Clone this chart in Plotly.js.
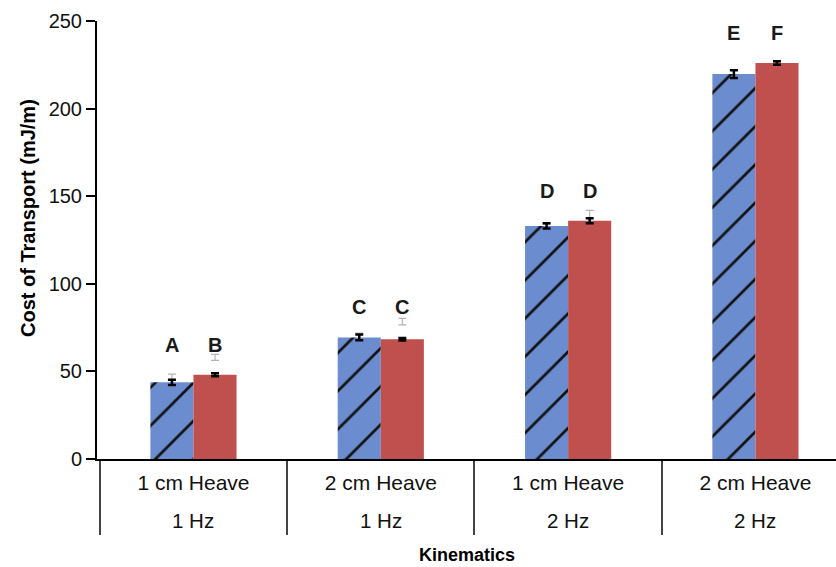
<!DOCTYPE html>
<html>
<head>
<meta charset="utf-8">
<script src="https://cdn.plot.ly/plotly-3.0.1.min.js"></script>
<style>
  html, body { margin: 0; padding: 0; background: #fff; }
  #chart { width: 836px; height: 567px; }
</style>
</head>
<body>
<div id="chart"></div>
<script>
// Kinematic conditions (two label rows under each group)
const heaveLabels = ["1 cm Heave", "2 cm Heave", "1 cm Heave", "2 cm Heave"];
const freqLabels = ["1 Hz", "1 Hz", "2 Hz", "2 Hz"];

// Cost of transport (mJ/m): means and standard errors
const blueMean = [43.8, 69.4, 133.0, 219.7];
const blueErr = [1.5, 1.6, 1.5, 2.2];
const redMean = [48.1, 68.4, 136.0, 226.0];
const redErr = [0.8, 0.7, 1.4, 1.0];

// Secondary (grey) error ranges
const blueRangeMid = [43.8, 69.4, 133.0, 219.7];
const blueRangeErr = [4.7, 2.5, 1.0, 2.6];
const redRangeMid = [58.0, 78.4, 136.0, 226.0];
const redRangeErr = [1.7, 1.9, 5.9, 0.5];

// Significance letters
const blueLetters = ["A", "C", "D", "E"];
const redLetters = ["B", "C", "D", "F"];

const keys = heaveLabels.map((h, i) => h + " / " + freqLabels[i]);

const BLUE = "#6b8cce";
const RED = "#c0504d";
const FONT = "Liberation Sans, Arial, sans-serif";

const greyErr = (arr) => ({
  type: "data", array: arr, visible: true,
  color: "#b4b4b4", thickness: 1.2, width: 4
});
const blackErr = (arr) => ({
  type: "data", array: arr, visible: true,
  color: "#000", thickness: 2.5, width: 4
});

const traces = [
  {
    type: "bar", x: keys, y: blueRangeMid, offsetgroup: "a",
    marker: { color: "rgba(0,0,0,0)", line: { width: 0 } },
    error_y: greyErr(blueRangeErr), hoverinfo: "skip", showlegend: false
  },
  {
    type: "bar", x: keys, y: redRangeMid, offsetgroup: "b",
    marker: { color: "rgba(0,0,0,0)", line: { width: 0 } },
    error_y: greyErr(redRangeErr), hoverinfo: "skip", showlegend: false
  },
  {
    type: "bar", x: keys, y: blueMean, offsetgroup: "a",
    marker: {
      color: BLUE, line: { width: 0 },
      pattern: { shape: "/", fgcolor: "#111", bgcolor: BLUE, size: 27, solidity: 0.1, fgopacity: 1 }
    },
    error_y: blackErr(blueErr), showlegend: false
  },
  {
    type: "bar", x: keys, y: redMean, offsetgroup: "b",
    marker: { color: RED, line: { width: 0 } },
    error_y: blackErr(redErr), showlegend: false
  }
];

const annotations = [];
keys.forEach((k, i) => {
  const top = Math.max(blueMean[i], redMean[i]);
  annotations.push({
    xref: "x", yref: "y", x: k, y: top, xshift: -21.5, yshift: 30,
    text: blueLetters[i], showarrow: false, yanchor: "middle",
    font: { family: FONT, size: 20, color: "#1a1a1a", weight: "bold" }
  });
  annotations.push({
    xref: "x", yref: "y", x: k, y: top, xshift: 21.5, yshift: 30,
    text: redLetters[i], showarrow: false, yanchor: "middle",
    font: { family: FONT, size: 20, color: "#1a1a1a", weight: "bold" }
  });
  annotations.push({
    xref: "x", yref: "paper", x: k, y: 0, yshift: -61,
    text: freqLabels[i], showarrow: false, yanchor: "middle",
    font: { family: FONT, size: 20.5, color: "#111" }
  });
});

// Axis titles
annotations.push({
  xref: "paper", yref: "paper", x: 0, y: (459 - 218) / 438, xshift: -69,
  text: "<b>Cost of Transport (mJ/m)</b>", textangle: -90, showarrow: false,
  xanchor: "center", yanchor: "middle",
  font: { family: FONT, size: 20, color: "#000" }
});
annotations.push({
  xref: "paper", yref: "paper", x: 0.5, y: 0, yshift: -96,
  text: "<b>Kinematics</b>", showarrow: false,
  xanchor: "center", yanchor: "middle",
  font: { family: FONT, size: 18, color: "#000" }
});

const layout = {
  width: 836, height: 567,
  margin: { l: 97, r: 0, t: 21, b: 108, pad: 0 },
  paper_bgcolor: "#fff", plot_bgcolor: "#fff",
  barmode: "group", bargap: 0.54, bargroupgap: 0,
  showlegend: false,
  font: { family: FONT, size: 20, color: "#111" },
  xaxis: {
    type: "category", range: [-0.515, 3.43], fixedrange: true,
    tickmode: "array", tickvals: keys, ticktext: heaveLabels,
    tickson: "boundaries", ticks: "outside", ticklen: 74, tickwidth: 2, tickcolor: "#444",
    ticklabelstandoff: 4,
    showline: true, linecolor: "#000", linewidth: 2,
    showgrid: false, zeroline: false,
    tickfont: { family: FONT, size: 21, color: "#111" }
  },
  yaxis: {
    range: [0, 250], dtick: 50, fixedrange: true,
    ticks: "outside", ticklen: 9, tickwidth: 2, tickcolor: "#000",
    showline: true, linecolor: "#000", linewidth: 2,
    showgrid: false, zeroline: false,
    tickfont: { family: FONT, size: 20, color: "#111" }
  },
  annotations: annotations
};

Plotly.newPlot("chart", traces, layout, { staticPlot: true, displayModeBar: false });
</script>
</body>
</html>
